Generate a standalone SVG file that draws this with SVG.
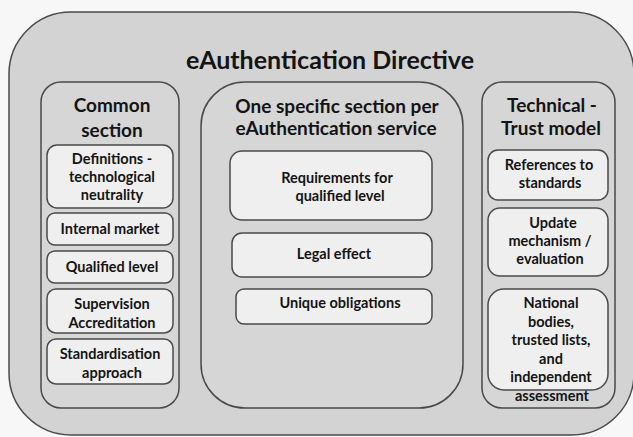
<svg xmlns="http://www.w3.org/2000/svg" width="633" height="437" viewBox="0 0 633 437">
<style>
.outer{fill:#d3d3d3;stroke:#4a4a4a;stroke-width:1.5}
.panel{fill:#d6d6d6;stroke:#4a4a4a;stroke-width:1.5}
.box{fill:#efefef;stroke:#4a4a4a;stroke-width:1.5}
text{font-family:Lato,"Liberation Sans",sans-serif;font-weight:bold;fill:#141414;text-anchor:middle}
.t{font-size:25px}
.h{font-size:19px}
.b{font-size:14.5px}
</style>
<rect width="633" height="437" fill="#f7f7f7"/>
<g id="directive">
<rect class="outer" x="9" y="12" width="625" height="423" rx="62"/>
<text class="t" x="330" y="69">eAuthentication Directive</text>
</g>
<g id="common-section">
<rect class="panel" x="41" y="82" width="138" height="326" rx="20"/>
<text class="h" x="112" y="112">Common</text>
<text class="h" x="112" y="137">section</text>
</g>
<g id="definitions">
<rect class="box" x="47" y="145" width="126" height="63" rx="10"/>
<text class="b" x="112" y="164">Definitions -</text>
<text class="b" x="112" y="182">technological</text>
<text class="b" x="112" y="200">neutrality</text>
</g>
<g id="internal-market">
<rect class="box" x="47" y="213" width="126" height="32" rx="8"/>
<text class="b" x="110" y="234">Internal market</text>
</g>
<g id="qualified-level">
<rect class="box" x="47" y="251" width="126" height="32" rx="8"/>
<text class="b" x="112" y="272">Qualified level</text>
</g>
<g id="supervision">
<rect class="box" x="47" y="289" width="126" height="44" rx="9"/>
<text class="b" x="112" y="309">Supervision</text>
<text class="b" x="112" y="328">Accreditation</text>
</g>
<g id="standardisation">
<rect class="box" x="47" y="339" width="126" height="45" rx="9"/>
<text class="b" x="110" y="359">Standardisation</text>
<text class="b" x="112" y="378">approach</text>
</g>
<g id="specific-section">
<rect class="panel" x="201" y="82" width="262" height="326" rx="44"/>
<text class="h" x="337" y="113">One specific section per</text>
<text class="h" x="336" y="135">eAuthentication service</text>
</g>
<g id="requirements">
<rect class="box" x="230" y="151" width="202" height="69" rx="12"/>
<text class="b" x="337" y="183">Requirements for</text>
<text class="b" x="340" y="201">qualified level</text>
</g>
<g id="legal-effect">
<rect class="box" x="232" y="233" width="200" height="44" rx="10"/>
<text class="b" x="334" y="259">Legal effect</text>
</g>
<g id="unique-obligations">
<rect class="box" x="236" y="289" width="196" height="35" rx="8"/>
<text class="b" x="340" y="308">Unique obligations</text>
</g>
<g id="trust-model">
<rect class="panel" x="482" y="82" width="133" height="326" rx="20"/>
<text class="h" x="552" y="112">Technical -</text>
<text class="h" x="551" y="135">Trust model</text>
</g>
<g id="references">
<rect class="box" x="488" y="150" width="120" height="50" rx="10"/>
<text class="b" x="549" y="170">References to</text>
<text class="b" x="550" y="188">standards</text>
</g>
<g id="update">
<rect class="box" x="488" y="208" width="120" height="68" rx="12"/>
<text class="b" x="553" y="228">Update</text>
<text class="b" x="550" y="246">mechanism /</text>
<text class="b" x="550" y="264">evaluation</text>
</g>
<g id="national">
<rect class="box" x="488" y="289" width="120" height="101" rx="16"/>
<text class="b" x="551" y="308">National</text>
<text class="b" x="551" y="327">bodies,</text>
<text class="b" x="551" y="345">trusted lists,</text>
<text class="b" x="551" y="364">and</text>
<text class="b" x="551" y="382">independent</text>
<text class="b" x="552" y="401">assessment</text>
</g>
<g id="connectors"></g>
</svg>
